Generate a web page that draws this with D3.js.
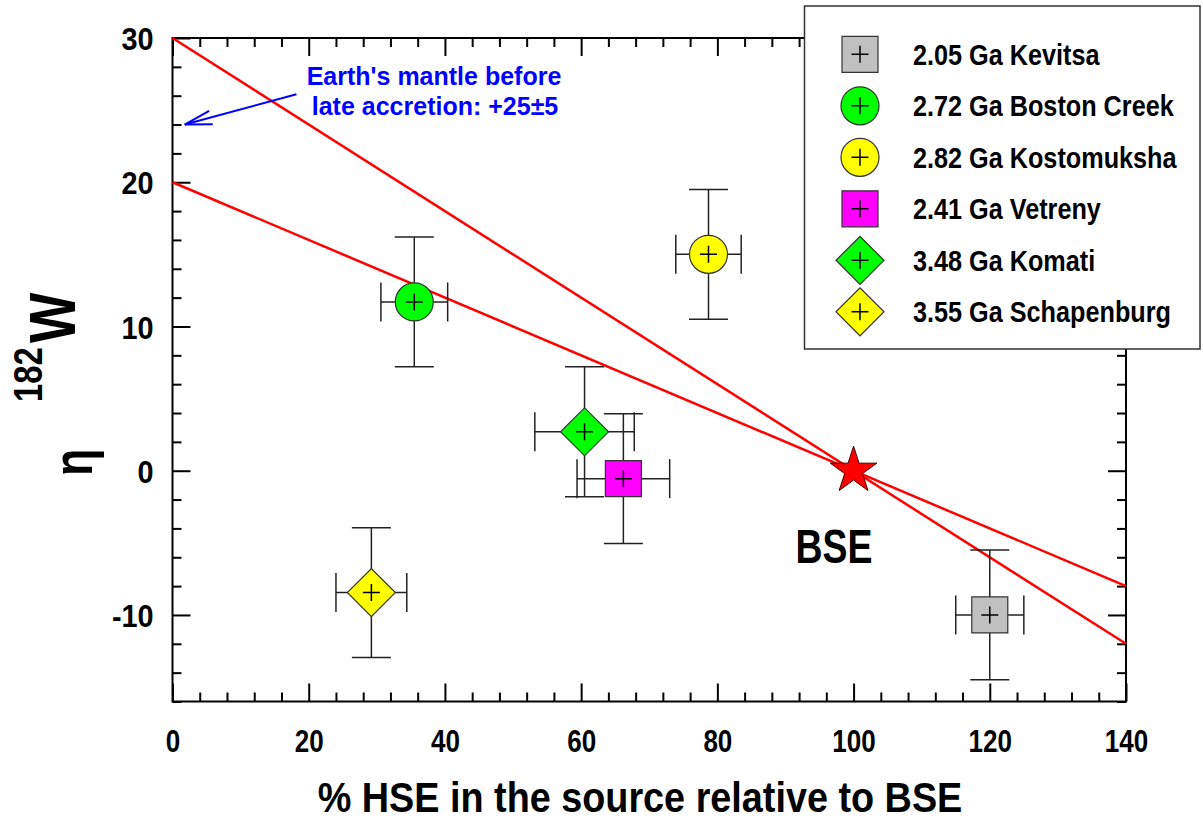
<!DOCTYPE html>
<html>
<head>
<meta charset="utf-8">
<script src="https://cdn.jsdelivr.net/npm/d3@7"></script>
<style>
  body { margin: 0; background: #fff; }
  text { font-family: "Liberation Sans", Arial, sans-serif; font-weight: bold; }
</style>
</head>
<body>
<svg id="chart" width="1203" height="820"></svg>
<script>
// samples (legend order)
const samples = ['2.05 Ga Kevitsa', '2.72 Ga Boston Creek', '2.82 Ga Kostomuksha',
                 '2.41 Ga Vetreny', '3.48 Ga Komati', '3.55 Ga Schapenburg'];
const hse    = [120, 35.5, 78.7, 66.2, 60.5, 29.2];   // % HSE relative to BSE
const hseErr = [5, 4.9, 4.8, 6.8, 7.3, 5.2];
const mu     = [-10, 11.7, 15.0, -0.55, 2.7, -8.45]; // mu 182W
const muErr  = [4.5, 4.5, 4.5, 4.5, 4.5, 4.5];

// symbol + fill per sample
const shapes = ['square', 'circle', 'circle', 'square', 'diamond', 'diamond'];
const fills  = ['#c0c0c0', '#00ff00', '#ffff00', '#ff00ff', '#00ff00', '#ffff00'];

// mixing lines through BSE
const lineX = [0, 140];
const lineA = [30, -12];
const lineB = [20, -8];
const bse = [100, 0];

// axis ticks
const xMajor = [0, 20, 40, 60, 80, 100, 120, 140];
const yMajor = [-10, 0, 10, 20, 30];

const svg = d3.select('#chart');

const x = d3.scaleLinear().domain([0, 140]).range([172.5, 1126]);
const y = d3.scaleLinear().domain([-16, 30]).range([701.5, 38]);

// squeeze text horizontally around its anchor
function label(parent, px, py, str, size, k, anchor) {
  return parent.append('text')
    .attr('transform', `translate(${px},${py}) scale(${k},1)`)
    .attr('text-anchor', anchor || 'start')
    .attr('font-size', size)
    .text(str);
}

// ---- axes, ticks pointing inward
const xMinor = d3.range(0, 141, 4).filter(d => d % 20 !== 0);
const yMinor = d3.range(-16, 31, 2).filter(d => d % 10 !== 0);

function ticks(axis, vals, len, pos, lab) {
  const g = svg.append('g').attr('transform', pos)
    .call(axis.tickValues(vals).tickSize(-len).tickSizeOuter(0)
      .tickPadding(lab ? lab : 0)
      .tickFormat(lab ? (d => String(d)) : ''));
  g.select('.domain').remove();
  g.selectAll('line').attr('stroke', '#000').attr('stroke-width', 2);
  return g;
}

const gl = ticks(d3.axisLeft(y), yMajor, 18, `translate(${x(0)},0)`, 21);
ticks(d3.axisLeft(y), yMinor, 9, `translate(${x(0)},0)`);
ticks(d3.axisRight(y), yMajor, 18, `translate(${x(140)},0)`);
ticks(d3.axisRight(y), yMinor, 9, `translate(${x(140)},0)`);
const gb = ticks(d3.axisBottom(x), xMajor, 18, `translate(0,${y(-16)})`, 29);
ticks(d3.axisBottom(x), xMinor, 9, `translate(0,${y(-16)})`);
ticks(d3.axisTop(x), xMajor, 18, `translate(0,${y(30)})`);
ticks(d3.axisTop(x), xMinor, 9, `translate(0,${y(30)})`);

gl.selectAll('text').attr('font-size', 32).attr('fill', '#000')
  .attr('transform', 'scale(0.9,1)').attr('dy', '0.36em');
gb.selectAll('text').attr('font-size', 31).attr('fill', '#000')
  .attr('transform', 'scale(0.84,1)');

// frame
svg.append('rect')
  .attr('x', x(0)).attr('y', y(30))
  .attr('width', x(140) - x(0)).attr('height', y(-16) - y(30))
  .attr('fill', 'none').attr('stroke', '#000').attr('stroke-width', 2);

// ---- mixing lines
const line = d3.line().x(d => x(d[0])).y(d => y(d[1]));
[lineA, lineB].forEach(v => {
  svg.append('path')
    .datum(lineX.map((d, i) => [d, v[i]]))
    .attr('d', line)
    .attr('fill', 'none').attr('stroke', '#ff0000').attr('stroke-width', 2.5);
});

// ---- error bars
const cap = 19.5;
const eb = svg.append('g').attr('stroke', '#222').attr('stroke-width', 1.5).attr('fill', 'none');
hse.forEach((h, i) => {
  const cx = x(h), cy = y(mu[i]);
  const x1 = x(h - hseErr[i]), x2 = x(h + hseErr[i]);
  const y1 = y(mu[i] + muErr[i]), y2 = y(mu[i] - muErr[i]);
  eb.append('line').attr('x1', x1).attr('x2', x2).attr('y1', cy).attr('y2', cy);
  eb.append('line').attr('x1', cx).attr('x2', cx).attr('y1', y1).attr('y2', y2);
  eb.append('line').attr('x1', x1).attr('x2', x1).attr('y1', cy - cap).attr('y2', cy + cap);
  eb.append('line').attr('x1', x2).attr('x2', x2).attr('y1', cy - cap).attr('y2', cy + cap);
  eb.append('line').attr('x1', cx - cap).attr('x2', cx + cap).attr('y1', y1).attr('y2', y1);
  eb.append('line').attr('x1', cx - cap).attr('x2', cx + cap).attr('y1', y2).attr('y2', y2);
});

// ---- markers
const symbolPath = {
  square:  d3.symbol(d3.symbolSquare, 36 * 36)(),
  circle:  d3.symbol(d3.symbolCircle, Math.PI * 19 * 19)(),
  diamond: d3.symbol(d3.symbolSquare, 2 * 24 * 24)()
};
function marker(g, px, py, i) {
  const m = g.append('g').attr('transform', `translate(${px},${py})`);
  m.append('path')
    .attr('d', symbolPath[shapes[i]])
    .attr('transform', shapes[i] === 'diamond' ? 'rotate(45)' : null)
    .attr('fill', fills[i]).attr('stroke', '#333').attr('stroke-width', 1.2);
  m.append('path').attr('d', 'M-8.5,0H8.5M0,-8.5V8.5')
    .attr('stroke', '#000').attr('stroke-width', 1.5);
}
const mk = svg.append('g');
hse.forEach((h, i) => marker(mk, x(h), y(mu[i]), i));

// BSE star
svg.append('path')
  .attr('transform', `translate(${x(bse[0])},${y(bse[1])})`)
  .attr('d', d3.symbol(d3.symbolStar, 674)())
  .attr('fill', '#ff0000').attr('stroke', '#400').attr('stroke-width', 1);
label(svg, 834, 563, 'BSE', 48, 0.78, 'middle');

// ---- annotation
const tip = [x(1.8), y(24)], tail = [x(18.2), y(26.1)];
const ann = svg.append('g').attr('stroke', '#0000ff').attr('stroke-width', 2).attr('fill', 'none');
ann.append('line').attr('x1', tail[0]).attr('y1', tail[1]).attr('x2', tip[0]).attr('y2', tip[1]);
const ang = Math.atan2(tail[1] - tip[1], tail[0] - tip[0]);
[-0.25, 0.25].forEach(a => {
  ann.append('line').attr('x1', tip[0]).attr('y1', tip[1])
    .attr('x2', tip[0] + 28 * Math.cos(ang + a)).attr('y2', tip[1] + 28 * Math.sin(ang + a));
});
label(svg, 434, 85, "Earth's mantle before", 25, 1, 'middle').attr('fill', '#0000ff');
label(svg, 435, 115, 'late accretion: +25\u00b15', 25, 1, 'middle').attr('fill', '#0000ff');

// ---- axis titles
label(svg, 640, 812, '% HSE in the source relative to BSE', 42, 0.9, 'middle');
svg.append('text').attr('transform', 'translate(75,343) rotate(-90) scale(0.82,1)')
  .attr('font-size', 65).text('W');
svg.append('text').attr('transform', 'translate(42,402) rotate(-90) scale(0.82,1)')
  .attr('font-size', 40).text('182');
svg.append('text').attr('transform', 'translate(92,476) rotate(-90) scale(0.8,1)')
  .attr('font-size', 56).text('\u03b7');

// ---- legend
const lg = svg.append('g');
lg.append('rect').attr('x', 804.5).attr('y', 6).attr('width', 395.5).attr('height', 343)
  .attr('fill', '#fff').attr('stroke', '#333').attr('stroke-width', 1.5);
samples.forEach((s, i) => {
  const ry = 54.3 + i * 51.5;
  marker(lg, 860, ry, i);
  label(lg, 913, ry + 10.5, s, 29, 0.87);
});
</script>
</body>
</html>
